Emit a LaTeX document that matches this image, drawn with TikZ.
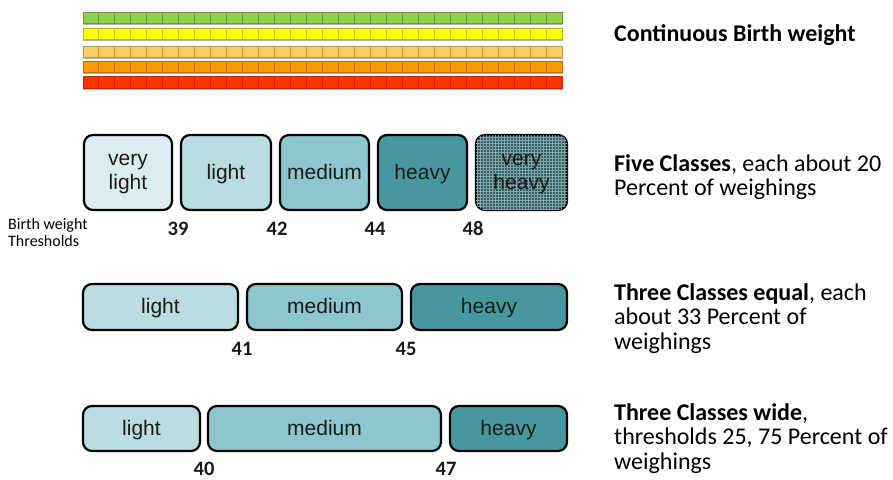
\documentclass[tikz,border=0pt]{standalone}
\usepackage{fontspec}
\setmainfont{Carlito}
\newfontfamily\arialfont{Liberation Sans}
\usetikzlibrary{patterns}

\definecolor{cgreen}{HTML}{92D050}
\definecolor{cgreenb}{HTML}{6F9A3C}
\definecolor{cyellow}{HTML}{FFFF00}
\definecolor{cyellowb}{HTML}{BDBD00}
\definecolor{clorange}{HTML}{FFCC66}
\definecolor{clorangeb}{HTML}{BF9552}
\definecolor{corange}{HTML}{FF9900}
\definecolor{corangeb}{HTML}{C47000}
\definecolor{cred}{HTML}{FF3300}
\definecolor{credb}{HTML}{BF2A08}
\definecolor{shadowgray}{HTML}{B4B4B4}
\definecolor{vlight}{HTML}{DAEEF0}
\definecolor{lightc}{HTML}{B9DDE1}
\definecolor{mediumc}{HTML}{8CC6CE}
\definecolor{heavyc}{HTML}{46979F}
\definecolor{vheavyc}{HTML}{2A6469}
\definecolor{gridc}{HTML}{86A2A4}
\definecolor{textc}{HTML}{1A1A1A}

\tikzset{
  x=1pt, y=-1pt,
  classbox/.style={draw=black, line width=2.2pt, rounded corners=9pt,
    align=center, inner sep=0pt, text=textc, text depth=1.5pt,
    font=\arialfont\fontsize{21}{24}\selectfont},
  thresh/.style={anchor=base, inner sep=0pt, text=textc,
    font=\bfseries\fontsize{20.5}{24}\selectfont},
  note/.style={anchor=base west, inner sep=0pt, text=black,
    font=\fontsize{24}{24.5}\selectfont},
  cell/.style={line width=1pt},
}

% one row of 30 squares with a soft shadow underneath
\newcommand{\cellbar}[4]{% top, height, fill, border
  \fill[shadowgray] (83,#1+1.8) rectangle (562.5,#1+#2+1.8);
  \foreach \i in {0,...,29}{
    \draw[cell, fill=#3, draw=#4] (83+\i*15.97,#1) rectangle ++(15.97,#2);
  }
}

\begin{document}
\begin{tikzpicture}
\useasboundingbox[fill=white] (0,0) rectangle (893,479);

% continuous scale
\cellbar{12}{11.5}{cgreen}{cgreenb}
\cellbar{28}{11}{cyellow}{cyellowb}
\cellbar{46}{11}{clorange}{clorangeb}
\cellbar{61}{11.5}{corange}{corangeb}
\cellbar{76.5}{11.5}{cred}{credb}

% five classes
\node[classbox, fill=vlight, minimum width=88pt, minimum height=75pt] (f1) at (128,172.5) {very\\light};
\node[classbox, fill=lightc, minimum width=90pt, minimum height=75pt] (f2) at (226,172.5) {light};
\node[classbox, fill=mediumc, minimum width=89pt, minimum height=75pt] (f3) at (324.5,172.5) {medium};
\node[classbox, fill=heavyc, minimum width=89pt, minimum height=75pt] (f4) at (422.5,172.5) {heavy};
\node[classbox, fill=vheavyc, minimum width=91pt, minimum height=75pt,
      postaction={pattern=grid, pattern color=gridc}] (f5) at (521.5,172.5) {very\\heavy};

\node[thresh] (t39) at (178,235) {39};
\node[thresh] (t42) at (277,235) {42};
\node[thresh] (t44) at (375,235) {44};
\node[thresh] (t48) at (473,235) {48};

\node[anchor=base west, inner sep=0pt, font=\fontsize{16}{17.5}\selectfont] (bwt) at (8,229)
  {\parbox[t]{100pt}{\raggedright Birth weight\\Thresholds}};

% three equal classes
\node[classbox, fill=lightc, minimum width=155pt, minimum height=46pt] (e1) at (160.5,307) {light};
\node[classbox, fill=mediumc, minimum width=155pt, minimum height=46pt] (e2) at (324.5,307) {medium};
\node[classbox, fill=heavyc, minimum width=156pt, minimum height=46pt] (e3) at (489,307) {heavy};

\node[thresh] (t41) at (242,355.5) {41};
\node[thresh] (t45) at (406,355.5) {45};

% three wide classes
\node[classbox, fill=lightc, minimum width=117pt, minimum height=45pt] (w1) at (141.5,428.5) {light};
\node[classbox, fill=mediumc, minimum width=233pt, minimum height=45pt] (w2) at (324.5,428.5) {medium};
\node[classbox, fill=heavyc, minimum width=117pt, minimum height=45pt] (w3) at (508.5,428.5) {heavy};

\node[thresh] (t40) at (204,475.5) {40};
\node[thresh] (t47) at (446,475.5) {47};

% descriptions
\node[note] (d1) at (614,41) {\textbf{Continuous Birth weight}};
\node[note] (d2) at (614,171) {\parbox[t]{300pt}{\raggedright
  \textbf{Five Classes}, each about 20\\Percent of weighings}};
\node[note] (d3) at (614,300) {\parbox[t]{300pt}{\raggedright
  \textbf{Three Classes equal}, each\\about 33 Percent of\\weighings}};
\node[note] (d4) at (614,420) {\parbox[t]{300pt}{\raggedright
  \textbf{Three Classes wide},\\thresholds 25, 75 Percent of\\weighings}};
\end{tikzpicture}
\end{document}
